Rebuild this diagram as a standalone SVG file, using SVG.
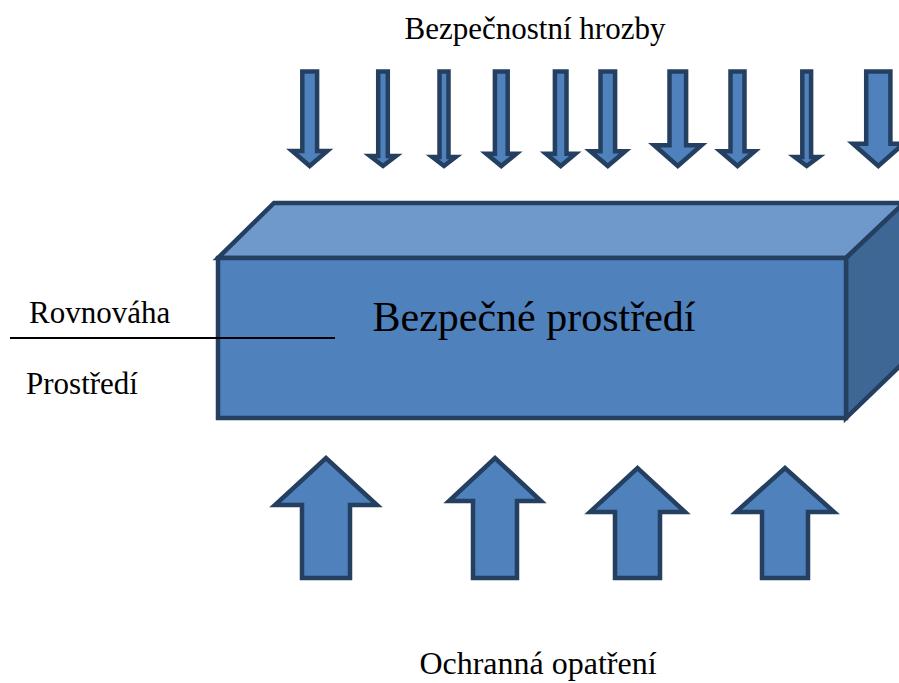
<svg xmlns="http://www.w3.org/2000/svg" width="899" height="683" viewBox="0 0 899 683">
  <style>
    .lbl { font-family: "Liberation Serif", "Times New Roman", serif; fill: #000; }
    .arrow { fill: #4F81BD; stroke: #243F60; stroke-width: 4.5; stroke-linejoin: miter; }
    .edge { stroke: #243F60; stroke-width: 4.5; stroke-linejoin: miter; }
  </style>
  <rect width="899" height="683" fill="#ffffff"/>

  <!-- threats pressing down -->
  <g id="threats">
    <text class="lbl" x="535" y="39" font-size="31" text-anchor="middle">Bezpečnostní hrozby</text>
    <polygon class="arrow" points="302.3,71.5 317.1,71.5 317.1,151 327.2,151 309.7,166 292.2,151 302.3,151"/>
    <polygon class="arrow" points="378.2,71.5 387.8,71.5 387.8,156 396,156 383,166 370,156 378.2,156"/>
    <polygon class="arrow" points="439.5,71.5 448.5,71.5 448.5,157 455.7,157 444,166 432.3,157 439.5,157"/>
    <polygon class="arrow" points="494.9,71.5 507.7,71.5 507.7,153.7 516.3,153.7 501.3,166 486.3,153.7 494.9,153.7"/>
    <polygon class="arrow" points="554.9,71.5 566.5,71.5 566.5,153.7 575.4,153.7 560.7,166 546,153.7 554.9,153.7"/>
    <polygon class="arrow" points="600.5,71.5 615.1,71.5 615.1,151.3 625.2,151.3 607.8,166 590.4,151.3 600.5,151.3"/>
    <polygon class="arrow" points="669.5,71.5 686.1,71.5 686.1,145.3 701.5,145.3 677.8,166 654.1,145.3 669.5,145.3"/>
    <polygon class="arrow" points="730.5,71.5 744.5,71.5 744.5,151.3 754.7,151.3 737.5,166 720.3,151.3 730.5,151.3"/>
    <polygon class="arrow" points="802.3,71.5 811.1,71.5 811.1,157 818.7,157 806.7,166 794.7,157 802.3,157"/>
    <polygon class="arrow" points="866.2,71.5 890.4,71.5 890.4,143.7 903.7,143.7 878.3,166 852.9,143.7 866.2,143.7"/>
  </g>

  <!-- the protected environment block -->
  <g id="environment">
    <polygon class="edge" fill="#7099CB" points="218,258 274,203 904,203 846,258"/>
    <polygon class="edge" fill="#3F6796" points="846,258 904,203 904,362 846,418"/>
    <rect class="edge" fill="#4F81BD" x="218" y="258" width="628" height="160"/>
    <text class="lbl" x="534" y="331" font-size="42" text-anchor="middle">Bezpečné prostředí</text>
  </g>

  <!-- balance line with its labels -->
  <g id="balance">
    <line x1="10" y1="338" x2="335" y2="338" stroke="#000" stroke-width="2"/>
    <text class="lbl" x="29" y="323" font-size="31">Rovnováha</text>
    <text class="lbl" x="26" y="394" font-size="31">Prostředí</text>
  </g>

  <!-- protective measures pushing up -->
  <g id="measures">
    <polygon class="arrow" points="302,578 350,578 350,505 377,505 326,458 275,505 302,505"/>
    <polygon class="arrow" points="473,578 517,578 517,501 541,501 495,458 449,501 473,501"/>
    <polygon class="arrow" points="615,578 660,578 660,512 685,512 637.5,468 590,512 615,512"/>
    <polygon class="arrow" points="762,578 808,578 808,512 834,512 785,468 736,512 762,512"/>
    <text class="lbl" x="538" y="674" font-size="32" text-anchor="middle">Ochranná opatření</text>
  </g>
</svg>
